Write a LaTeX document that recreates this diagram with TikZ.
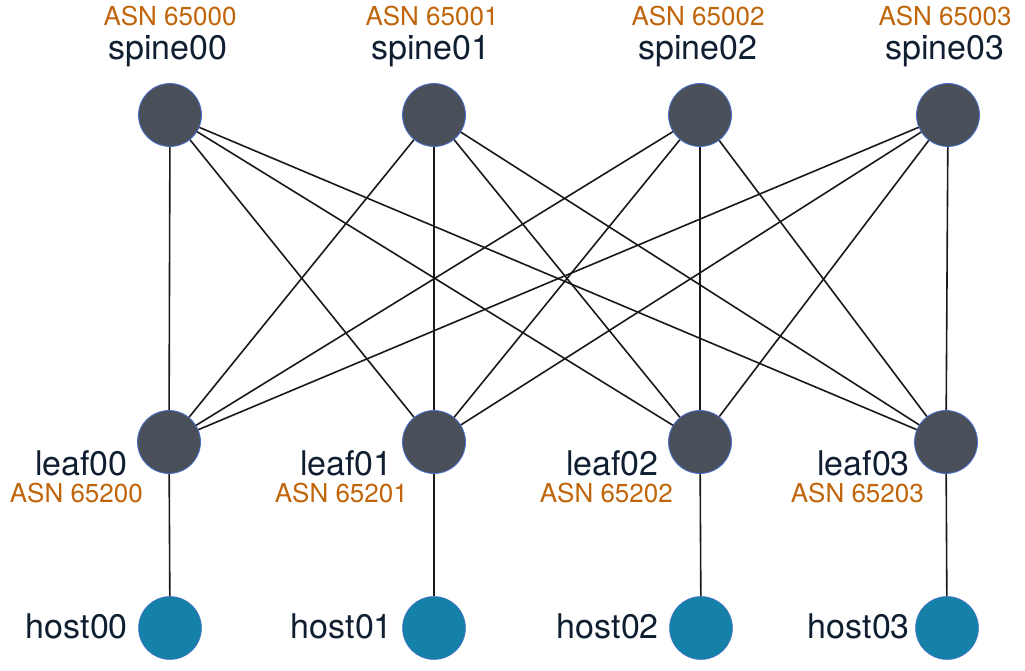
\documentclass[tikz,border=0pt]{standalone}
\usepackage{fontspec}
\setmainfont{TeX Gyre Heros}
\definecolor{nodegray}{HTML}{4A5059}
\definecolor{nodeedge}{HTML}{4A6FD0}
\definecolor{hostblue}{HTML}{1581A8}
\definecolor{txtdark}{HTML}{0F1E30}
\definecolor{asnorange}{HTML}{C0650A}
\tikzset{
  sw/.style={circle, fill=nodegray, draw=nodeedge, line width=0.8pt, minimum size=63pt, inner sep=0pt},
  hostnode/.style={circle, fill=hostblue, draw=nodeedge, line width=0.5pt, minimum size=63pt, inner sep=0pt},
  link/.style={draw=black!90, line width=1.6pt},
  nametext/.style={text=txtdark, font=\fontsize{34}{36}\selectfont, inner sep=0pt},
  asntext/.style={text=asnorange, font=\fontsize{26}{28}\selectfont, inner sep=0pt},
}
\begin{document}
\begin{tikzpicture}[x=1pt, y=-1pt]
\useasboundingbox (0,0) rectangle (1025,671);
% spines
\foreach \i/\x in {0/170,1/434,2/700,3/948}{
  \node[sw] (s\i) at (\x,115) {};
}
\foreach \i/\x in {0/169,1/434,2/700,3/946}{
  \node[sw] (l\i) at (\x,442) {};
}
\foreach \i/\x in {0/170,1/434,2/701,3/947}{
  \node[hostnode] (h\i) at (\x,628) {};
}
% links
\foreach \i in {0,1,2,3}{
  \foreach \j in {0,1,2,3}{
    \draw[link] (s\i) -- (l\j);
  }
  \draw[link] (l\i) -- (h\i);
}
% spine labels
\node[nametext, anchor=base] (sn0) at (168,60) {spine00};
\node[nametext, anchor=base] (sn1) at (431,60) {spine01};
\node[nametext, anchor=base] (sn2) at (698,60) {spine02};
\node[nametext, anchor=base] (sn3) at (945,60) {spine03};
\node[asntext, anchor=base] (sa0) at (170,26) {ASN 65000};
\node[asntext, anchor=base] (sa1) at (432,26) {ASN 65001};
\node[asntext, anchor=base] (sa2) at (698,26) {ASN 65002};
\node[asntext, anchor=base] (sa3) at (945,26) {ASN 65003};
% leaf labels
\node[nametext, anchor=base east] (ln0) at (128,475) {leaf00};
\node[nametext, anchor=base east] (ln1) at (393,475) {leaf01};
\node[nametext, anchor=base east] (ln2) at (659,475) {leaf02};
\node[nametext, anchor=base east] (ln3) at (910,475) {leaf03};
\node[asntext, anchor=base east] (la0) at (143,502) {ASN 65200};
\node[asntext, anchor=base east] (la1) at (408,502) {ASN 65201};
\node[asntext, anchor=base east] (la2) at (673,502) {ASN 65202};
\node[asntext, anchor=base east] (la3) at (924,502) {ASN 65203};
% host labels
\node[nametext, anchor=base east] (hn0) at (128,638) {host00};
\node[nametext, anchor=base east] (hn1) at (393,638) {host01};
\node[nametext, anchor=base east] (hn2) at (659,638) {host02};
\node[nametext, anchor=base east] (hn3) at (910,638) {host03};
\end{tikzpicture}
\end{document}
